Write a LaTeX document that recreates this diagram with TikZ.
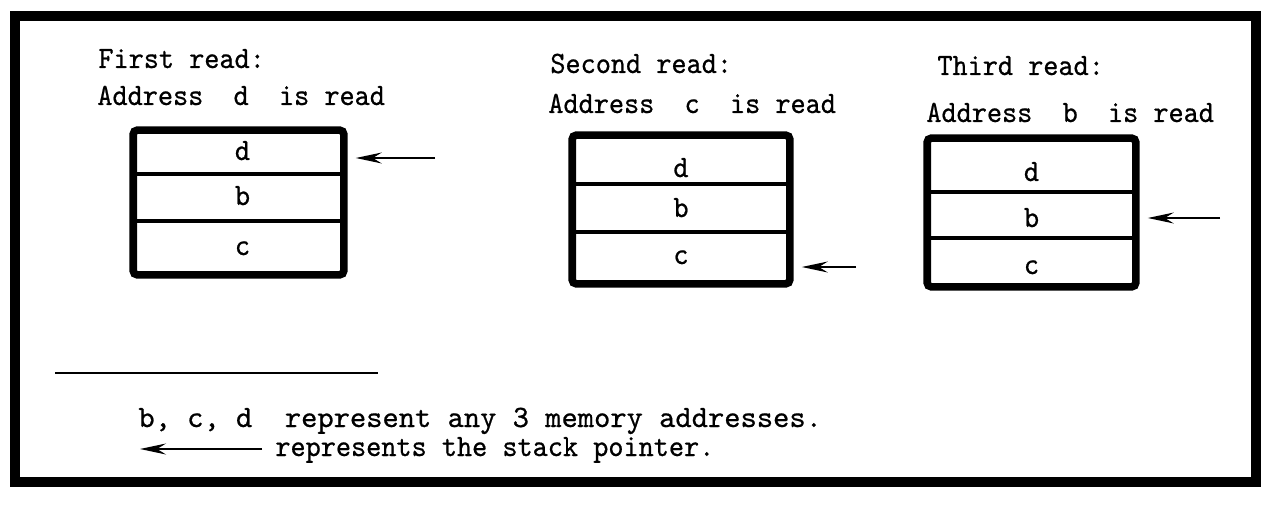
\documentclass[tikz,border=0pt]{standalone}
\usepackage{fontspec}
\newfontfamily\tw{lmmono10-regular}[Extension=.otf,FakeStretch=0.93,FakeBold=0.6]
\newfontfamily\twwide{lmmono10-regular}[Extension=.otf,FakeStretch=1.0,FakeBold=0.6]
\usetikzlibrary{fit,arrows.meta}
\begin{document}
\begin{tikzpicture}[x=0.5pt,y=-0.5pt,
  txt/.style={font=\tw\fontsize{15.5}{18}\selectfont, inner sep=0pt, anchor=base west},
  lbl/.style={font=\tw\fontsize{15.5}{18}\selectfont, inner sep=0pt, anchor=base},
  cell/.style={draw, line width=1.8pt, inner sep=0pt},
  stackbox/.style={draw, line width=3.8pt, rounded corners=2pt},
  ptr/.style={-{Stealth[length=13pt,width=5.5pt,inset=4.5pt]}, line width=0.9pt},
  ptrbox/.style={ptr, shorten >=6pt},
  framebox/.style={draw, line width=5pt},
  rule/.style={line width=1.2pt}
]
\useasboundingbox (0,0) rectangle (1265,508);
% outer frame
\draw[framebox] (15,16) rectangle (1256,482);

% ---- first read
\node[txt] (t1a) at (98,68) {First read:};
\node[txt] (t1b) at (97,105) {Address~~d~~is~read};
\node[cell, fit={(135,132) (342,174)}] (b1d) {};
\node[cell, fit={(135,174) (342,221)}] (b1b) {};
\node[cell, fit={(135,221) (342,273)}] (b1c) {};
\draw[stackbox] (b1d.north west) rectangle (b1c.south east);
\node[lbl] (b1dt) at ([xshift=2pt]b1d.center |- 0,160) {d};
\node[lbl] (b1bt) at ([xshift=2pt]b1b.center |- 0,205) {b};
\node[lbl] (b1ct) at ([xshift=2pt]b1c.center |- 0,255) {c};
\coordinate (p1) at (435,158);
\draw[ptrbox] (p1) -- (p1 -| b1d.east);

% ---- second read
\node[txt] (t2a) at (550,73) {Second read:};
\node[txt] (t2b) at (548,113) {Address~~c~~is~read};
\node[cell, fit={(574,137) (788,184)}] (b2d) {};
\node[cell, fit={(574,184) (788,232)}] (b2b) {};
\node[cell, fit={(574,232) (788,282)}] (b2c) {};
\draw[stackbox] (b2d.north west) rectangle (b2c.south east);
\node[lbl] (b2dt) at (b2d.center |- 0,177) {d};
\node[lbl] (b2bt) at (b2b.center |- 0,217) {b};
\node[lbl] (b2ct) at (b2c.center |- 0,264) {c};
\coordinate (p2) at (856,267);
\draw[ptrbox] (p2) -- (p2 -| b2c.east);

% ---- third read
\node[txt] (t3a) at (937,75) {Third read:};
\node[txt] (t3b) at (926,122) {Address~~b~~is~read};
\node[cell, fit={(929,140) (1134,192)}] (b3d) {};
\node[cell, fit={(929,192) (1134,238)}] (b3b) {};
\node[cell, fit={(929,238) (1134,285)}] (b3c) {};
\draw[stackbox] (b3d.north west) rectangle (b3c.south east);
\node[lbl] (b3dt) at (b3d.center |- 0,181) {d};
\node[lbl] (b3bt) at (b3b.center |- 0,227) {b};
\node[lbl] (b3ct) at (b3c.center |- 0,274) {c};
\coordinate (p3) at (1220,218);
\draw[ptrbox] (p3) -- (p3 -| b3b.east);

% ---- legend
\coordinate (r0) at (55,373);
\coordinate (r1) at (378,373);
\draw[rule] (r0) -- (r1);
\node[txt, font=\twwide\fontsize{15.5}{18}\selectfont] (l1) at (138,427) {b,~c,~d~~represent any 3 memory addresses.};
\node[txt] (l2) at (275,456) {represents the stack pointer.};
\coordinate (la0) at (262,449);
\coordinate (la1) at (140,449);
\draw[ptr] (la0) -- (la1);
\end{tikzpicture}
\end{document}
